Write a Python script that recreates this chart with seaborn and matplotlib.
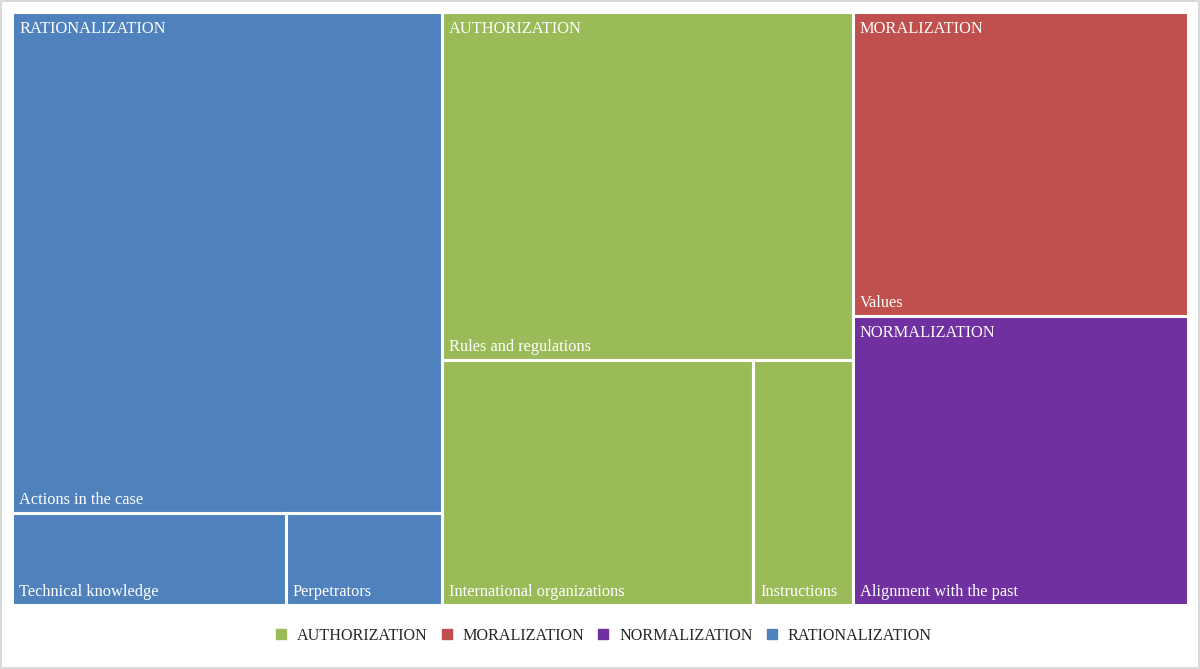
import matplotlib
matplotlib.use("Agg")
import matplotlib.pyplot as plt
from matplotlib.patches import Rectangle
from matplotlib.lines import Line2D
import seaborn as sns


groups = ["RATIONALIZATION", "AUTHORIZATION", "MORALIZATION", "NORMALIZATION"]
rationalization_items = ["Actions in the case", "Technical knowledge", "Perpetrators"]
rationalization_vals = [61.8, 7.2, 4.1]
authorization_items = ["Rules and regulations", "International organizations", "Instructions"]
authorization_vals = [41.0, 21.9, 7.0]
moralization_items = ["Values"]
moralization_vals = [29.2]
normalization_items = ["Alignment with the past"]
normalization_vals = [27.8]

legend_order = ["AUTHORIZATION", "MORALIZATION", "NORMALIZATION", "RATIONALIZATION"]
colors = {"AUTHORIZATION": "#9BBB59", "MORALIZATION": "#C0504D",
          "NORMALIZATION": "#7030A0", "RATIONALIZATION": "#4F81BD"}


def squarify(values, x, y, w, h):
    # squarified treemap, y grows downward
    total = float(sum(values))
    sizes = [v * w * h / total for v in values]
    rects = []
    while sizes:
        if w >= h:
            side = h
        else:
            side = w
        row = [sizes[0]]
        i = 1

        def worst(r):
            s = sum(r)
            return max(max(side * side * a / (s * s), (s * s) / (side * side * a)) for a in r)

        while i < len(sizes) and worst(row + [sizes[i]]) <= worst(row):
            row.append(sizes[i])
            i += 1
        s = sum(row)
        if w >= h:
            cw = s / h
            cy = y
            for a in row:
                rects.append((x, cy, cw, a / cw))
                cy += a / cw
            x += cw
            w -= cw
        else:
            rh = s / w
            cx = x
            for a in row:
                rects.append((cx, y, a / rh, rh))
                cx += a / rh
            y += rh
            h -= rh
        sizes = sizes[i:]
    return rects


sns.set_theme(style="white")
plt.rcParams["font.family"] = ["Liberation Serif", "DejaVu Serif"]

W, H = 1176, 593
fig = plt.figure(figsize=(12, 6.69), dpi=100)
fig.patch.set_edgecolor("#dadada")
fig.patch.set_linewidth(1.5)
ax = fig.add_axes([12 / 1200, 1 - 605 / 669, W / 1200, H / 669])
ax.set_xlim(0, W)
ax.set_ylim(H, 0)
ax.axis("off")

children = {
    "RATIONALIZATION": (rationalization_items, rationalization_vals),
    "AUTHORIZATION": (authorization_items, authorization_vals),
    "MORALIZATION": (moralization_items, moralization_vals),
    "NORMALIZATION": (normalization_items, normalization_vals),
}
group_vals = [sum(children[g][1]) for g in groups]
group_rects = squarify(group_vals, 0, 0, W, H)

for g, (gx, gy, gw, gh) in zip(groups, group_rects):
    items, vals = children[g]
    for name, (x, y, w, h) in zip(items, squarify(vals, gx, gy, gw, gh)):
        ax.add_patch(Rectangle((x, y), w, h, facecolor=colors[g],
                               edgecolor="white", linewidth=2.2))
        ax.text(x + 7, y + h - 13, name, color="white", fontsize=11.8,
                ha="left", va="center")
    ax.text(gx + 7, gy + 17, g, color="white", fontsize=11.8,
            ha="left", va="center")

handles = [Line2D([], [], marker="s", linestyle="none", markersize=6.5,
                  markerfacecolor=colors[g], markeredgecolor=colors[g]) for g in legend_order]
fig.legend(handles, legend_order, loc="center", bbox_to_anchor=(0.5025, 1 - 636 / 669),
           ncol=4, frameon=False, fontsize=11.6, handletextpad=0.58, columnspacing=0.78,
           handlelength=0.8)

fig.savefig("out.png", dpi=100)
